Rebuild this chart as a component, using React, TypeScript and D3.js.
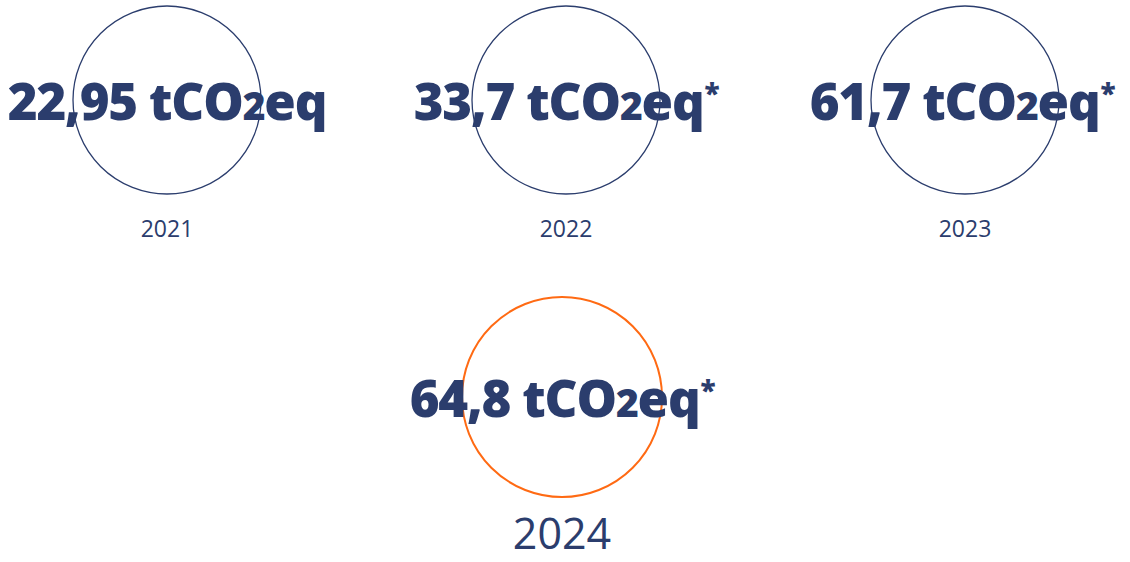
import * as d3 from "d3";
import React from "react";

// emissions per year, tCO2eq
const years = ["2021", "2022", "2023", "2024"];
const values = [22.95, 33.7, 61.7, 64.8];
const estimated = [false, true, true, true];
const rows = [0, 0, 0, 1];

const navy = "#2b3d6d";
const orange = "#ff6a13";

const fmt = (v: number) => String(v).replace(".", ",");

const App = () => {
  const width = 1130;
  const height = 562;

  const xTop = d3.scalePoint<string>().domain(years.slice(0, 3)).range([167, 965]);
  const yRow = d3.scaleOrdinal<number, number>().domain([0, 1]).range([100, 397]);

  return (
    <svg
      width={width}
      height={height}
      style={{ position: "absolute", left: 0, top: 0 }}
      fontFamily="'Open Sans', sans-serif"
    >
      {years.map((yr, i) => {
        const last = rows[i] === 1;
        const cx = last ? width / 2 - 3 : xTop(yr)!;
        const cy = yRow(rows[i]);
        const r = last ? 100 : 94;
        // keep the big label inside the right edge
        const tx = Math.min(cx, width - 168);
        return (
          <g key={yr}>
            <circle cx={cx} cy={cy} r={r} fill="none" stroke={last ? orange : navy} strokeWidth={last ? 2 : 1.3} />
            <text
              x={tx}
              y={cy + 20}
              textAnchor="middle"
              fontSize={51}
              fontWeight={800}
              letterSpacing={-1.2}
              fill={navy}
            >
              {fmt(values[i])} tCO<tspan fontSize={39}>2</tspan>eq
              {estimated[i] && (
                <tspan fontSize={28} dx={1} dy={-16}>*</tspan>
              )}
            </text>
            <text
              x={cx}
              y={last ? cy + 152 : cy + 137}
              textAnchor="middle"
              fontSize={last ? 43 : 23}
              fill={navy}
            >
              {yr}
            </text>
          </g>
        );
      })}
    </svg>
  );
};

export default App;
